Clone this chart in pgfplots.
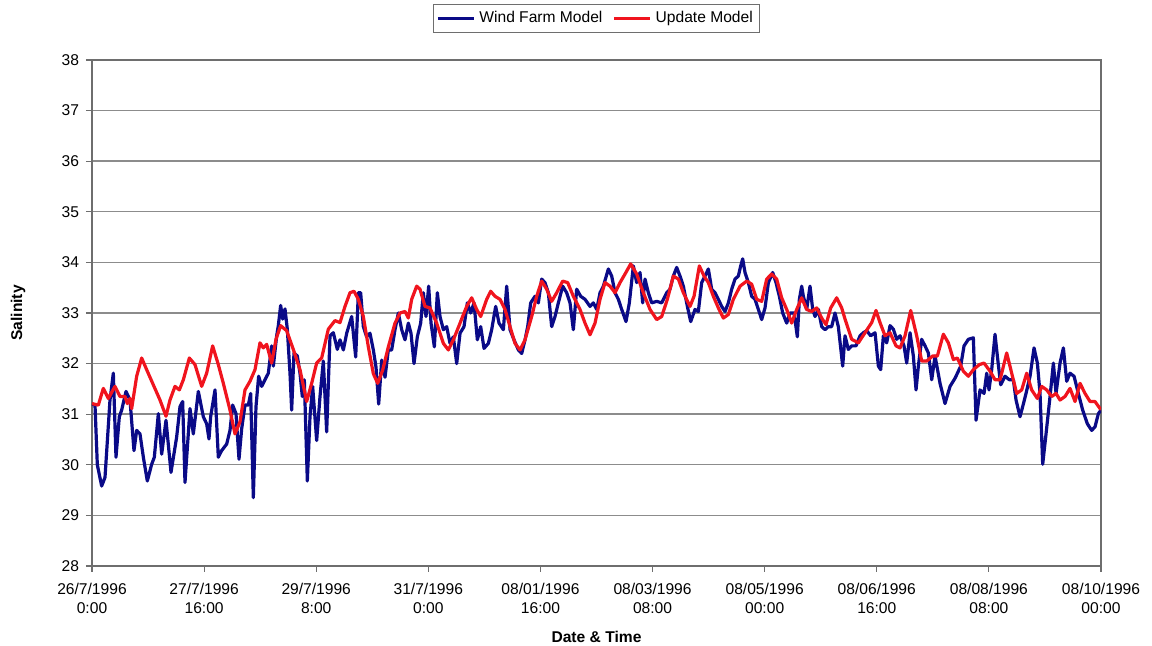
\documentclass[border=0pt]{standalone}
\usepackage{fontspec}
\setmainfont{Liberation Sans}
\usepackage{pgfplots}
\usepackage{pgfplotstable}
\pgfplotsset{compat=1.18}
\definecolor{navyline}{RGB}{10,10,135}
\definecolor{redline}{RGB}{240,20,30}
\definecolor{gridgray}{RGB}{140,140,140}
\definecolor{axisgray}{RGB}{110,110,110}

\pgfplotstableread{
h v
0 31.2
1.07 31.18
1.90 30.0
3.45 29.58
4.64 29.75
6.42 31.28
7.61 31.81
8.56 30.15
9.75 30.95
10.58 31.08
12.13 31.45
13.56 31.28
14.98 30.28
15.94 30.68
17.13 30.61
18.32 30.15
19.74 29.68
21.29 30.01
22.24 30.15
23.67 31.01
24.86 30.21
26.40 30.88
28.19 29.85
30.21 30.55
31.40 31.15
32.35 31.25
33.18 29.65
34.97 31.11
36.15 30.61
37.94 31.45
39.72 30.95
40.91 30.81
41.74 30.51
42.34 30.95
43.89 31.48
45.07 30.15
46.26 30.28
48.05 30.41
49.24 30.68
50.19 31.18
51.38 31.01
52.45 30.11
53.40 30.71
54.59 31.18
55.78 31.18
56.61 31.41
57.56 29.35
58.51 31.15
59.46 31.75
60.54 31.55
61.72 31.68
62.91 31.81
64.10 32.35
64.70 31.95
65.89 32.55
66.48 32.75
67.31 33.15
68.03 32.88
68.86 33.08
69.69 32.68
70.64 31.81
71.24 31.08
72.07 32.21
73.26 32.15
74.21 31.81
75.04 31.35
75.76 31.68
76.83 29.68
77.78 30.95
78.73 31.55
80.16 30.48
81.35 31.35
82.54 32.05
83.73 30.65
84.92 32.55
86.11 32.61
87.53 32.28
88.49 32.47
89.68 32.27
90.87 32.6
92.65 32.93
94.08 32.13
95.03 33.4
95.86 33.4
96.81 32.73
98.00 32.53
99.19 32.6
100.38 32.27
101.33 31.93
102.29 31.2
103.36 32.07
104.55 31.73
105.73 32.27
106.92 32.27
108.11 32.67
109.30 33.0
110.49 32.67
111.68 32.47
112.87 32.8
113.82 32.6
114.89 32.0
116.08 32.53
117.27 32.8
118.22 33.4
119.17 32.93
120.12 33.53
120.96 32.8
122.15 32.33
123.22 33.4
124.17 32.93
125.36 32.67
126.55 32.73
127.74 32.4
128.93 32.53
130.12 32.0
131.31 32.6
132.73 32.73
133.92 33.2
135.11 33.0
136.30 33.2
137.49 32.47
138.68 32.73
139.87 32.3
141.42 32.4
142.60 32.67
144.03 33.13
145.22 32.8
146.77 32.67
147.96 33.53
149.15 32.67
150.57 32.47
152.12 32.27
153.31 32.2
154.50 32.47
155.45 32.73
156.52 33.2
158.06 33.33
159.25 33.2
160.44 33.67
161.63 33.6
162.82 33.4
164.01 32.73
165.20 32.93
166.39 33.2
167.94 33.53
169.36 33.4
170.55 33.2
171.74 32.67
172.93 33.47
174.36 33.33
175.90 33.27
177.69 33.13
178.88 33.2
180.07 33.07
181.26 33.4
182.45 33.53
184.23 33.87
185.42 33.73
186.61 33.4
187.80 33.27
188.99 33.07
190.53 32.83
191.72 33.2
193.15 33.93
194.34 33.6
195.53 33.8
196.48 33.2
197.31 33.67
198.50 33.4
199.69 33.2
201.48 33.23
203.26 33.2
205.04 33.4
206.23 33.47
207.42 33.73
208.61 33.9
209.80 33.73
210.99 33.53
212.42 33.13
213.61 32.83
215.15 33.07
216.34 33.03
217.53 33.6
218.72 33.73
219.91 33.87
221.10 33.47
222.29 33.4
223.48 33.27
224.67 33.13
225.86 33.03
227.05 33.2
228.24 33.47
229.42 33.67
230.61 33.73
231.45 33.93
232.16 34.07
232.99 33.8
234.18 33.6
235.37 33.33
236.56 33.27
237.75 33.07
238.94 32.87
240.13 33.1
241.32 33.6
242.86 33.8
244.05 33.6
245.24 33.33
246.43 33.0
247.86 32.8
249.05 33.0
250.48 33.0
251.66 32.53
252.38 33.27
253.21 33.53
253.81 33.33
254.99 33.07
256.18 33.53
257.14 33.07
257.97 32.93
259.16 33.07
260.35 32.73
261.54 32.67
262.72 32.73
263.91 32.73
265.10 33.0
266.29 32.73
267.84 31.95
268.67 32.55
269.86 32.28
271.05 32.35
272.60 32.35
274.03 32.55
275.22 32.61
276.40 32.65
277.83 32.55
279.38 32.61
280.57 31.95
281.40 31.88
282.35 32.55
283.54 32.41
284.73 32.75
285.92 32.68
287.11 32.48
288.30 32.55
289.72 32.35
290.68 32.01
291.87 32.61
293.05 32.15
294.01 31.48
294.84 31.95
296.03 32.48
297.22 32.35
298.41 32.21
299.60 31.68
300.79 32.15
302.57 31.61
304.35 31.21
306.14 31.55
307.92 31.71
309.11 31.85
309.94 31.95
311.13 32.35
312.68 32.48
314.46 32.51
315.41 30.88
316.84 31.48
318.27 31.41
319.22 31.81
320.05 31.48
321.00 31.88
322.19 32.58
323.02 32.15
324.21 31.58
325.76 31.75
327.31 31.68
328.73 31.68
329.69 31.28
331.11 30.95
332.06 31.15
333.25 31.41
334.68 31.75
336.11 32.31
337.30 32.01
338.25 31.41
339.20 30.01
340.39 30.61
341.82 31.35
343.01 32.01
343.96 31.41
345.38 32.01
346.58 32.31
347.76 31.65
348.95 31.81
350.38 31.75
351.92 31.41
353.47 31.08
355.14 30.81
356.68 30.68
357.87 30.75
359.06 31.01
360 31.08
}\windfarm

\pgfplotstableread{
h v
0 31.21
2.26 31.18
4.04 31.51
5.83 31.31
8.21 31.55
9.99 31.35
11.77 31.35
12.61 31.21
13.56 31.31
14.15 31.11
15.94 31.75
17.72 32.11
19.50 31.88
21.88 31.58
24.26 31.28
26.40 30.96
27.83 31.28
29.61 31.55
31.16 31.48
32.59 31.68
34.73 32.11
36.75 31.98
39.13 31.55
40.91 31.81
43.05 32.35
45.07 31.98
46.86 31.61
49.24 31.08
51.02 30.61
52.81 30.85
54.59 31.48
56.37 31.65
58.16 31.88
59.94 32.41
61.13 32.31
62.32 32.38
64.10 32.01
65.65 32.48
67.31 32.75
69.45 32.65
71.83 32.28
74.21 31.88
76.59 31.25
78.37 31.61
80.16 32.01
81.94 32.11
84.32 32.68
86.70 32.85
88.49 32.81
90.27 33.13
92.05 33.4
93.48 33.43
95.03 33.27
96.81 32.93
98.60 32.33
100.38 31.8
101.93 31.61
103.71 31.87
105.73 32.33
108.11 32.8
109.90 33.0
111.68 33.03
112.87 32.9
114.06 33.27
115.84 33.53
117.03 33.47
118.82 33.13
120.60 33.1
122.98 32.8
125.36 32.4
127.14 32.27
128.93 32.47
131.31 32.8
133.68 33.13
135.47 33.3
137.25 33.07
138.68 32.93
140.82 33.27
142.25 33.43
143.79 33.33
145.58 33.27
147.36 33.07
149.15 32.73
150.93 32.4
152.71 32.27
154.50 32.47
156.87 32.93
158.66 33.33
160.44 33.63
162.23 33.47
164.01 33.23
165.79 33.4
167.94 33.63
169.72 33.6
171.74 33.33
174.12 33.07
175.90 32.8
177.69 32.57
179.47 32.8
181.26 33.27
183.04 33.6
184.83 33.53
186.61 33.4
188.39 33.6
190.18 33.77
192.20 33.97
194.34 33.77
196.72 33.4
199.10 33.07
201.48 32.87
203.26 32.93
205.28 33.27
207.42 33.73
209.21 33.67
210.99 33.4
213.37 33.13
214.80 33.33
216.70 33.93
218.36 33.73
219.91 33.6
221.69 33.33
223.48 33.1
225.26 32.9
227.05 32.97
228.83 33.27
231.21 33.53
233.59 33.63
235.37 33.57
237.16 33.27
238.94 33.23
240.72 33.67
242.51 33.77
244.29 33.67
246.07 33.3
247.86 33.07
249.64 32.8
251.43 33.07
253.21 33.3
254.99 33.07
256.78 33.03
258.56 33.1
260.35 32.9
261.89 32.77
263.56 33.1
265.70 33.3
267.48 33.1
268.67 32.88
271.05 32.48
273.43 32.41
275.81 32.61
278.19 32.81
279.73 33.05
281.16 32.81
282.95 32.55
284.73 32.61
286.87 32.35
288.30 32.31
290.08 32.55
292.10 33.05
294.24 32.55
296.03 32.05
297.81 32.05
299.95 32.15
301.62 32.15
303.76 32.58
305.54 32.41
307.33 32.08
308.75 32.11
310.89 31.85
312.68 31.75
314.46 31.88
316.60 31.98
318.27 32.01
320.41 31.85
322.19 31.68
323.98 31.68
326.36 32.21
328.14 31.81
329.92 31.41
331.71 31.48
333.49 31.81
335.27 31.48
337.30 31.31
338.84 31.55
340.63 31.48
342.41 31.35
343.96 31.41
345.38 31.28
347.17 31.35
348.95 31.51
350.73 31.25
352.52 31.61
354.30 31.41
356.09 31.25
357.87 31.25
359.66 31.11
360 31.10
}\update

\begin{document}
\begin{tikzpicture}
\begin{axis}[
  scale only axis,
  width=504.5pt, height=253pt,
  xmin=0, xmax=360, ymin=28, ymax=38,
  xtick={0,40,...,360},
  ytick={28,29,...,38},
  xtick pos=left, ytick pos=left,
  xticklabels={{26/7/1996\\0:00},{27/7/1996\\16:00},{29/7/1996\\8:00},{31/7/1996\\0:00},{08/01/1996\\16:00},{08/03/1996\\08:00},{08/05/1996\\00:00},{08/06/1996\\16:00},{08/08/1996\\08:00},{08/10/1996\\00:00}},
  xticklabel style={align=center, yshift=-2pt, font=\fontsize{7.8}{9.8}\selectfont},
  yticklabel style={font=\fontsize{7.8}{9.6}\selectfont},
  /pgf/number format/assume math mode=true,
  ymajorgrids,
  grid style={gridgray, line width=0.7pt},
  axis line style={axisgray, line width=0.8pt},
  tick style={axisgray, line width=0.6pt},
  tick align=outside,
  major tick length=3pt,
  xlabel={\textbf{Date \& Time}},
  ylabel={\textbf{Salinity}},
  every axis x label/.style={at={(axis description cs:0.5,0)}, yshift=-35.5pt, anchor=center, font=\fontsize{7.8}{9.6}\selectfont},
  every axis y label/.style={at={(axis description cs:0,0.5)}, xshift=-37pt, rotate=90, anchor=center, font=\fontsize{7.8}{9.6}\selectfont},
  legend columns=2,
  legend style={at={(axis description cs:0.5,1)}, anchor=south, yshift=13.5pt,
    draw=axisgray, line width=0.5pt, font=\fontsize{7.8}{9.6}\selectfont,
    inner sep=1.5pt, row sep=0pt,
    /tikz/every even column/.append style={column sep=3pt}},
  legend image code/.code={\draw[#1] (0pt,0pt) -- (18pt,0pt);},
  legend cell align=left,
]
\addplot[navyline, line width=1.6pt, line join=round] table[x=h, y=v] {\windfarm};
\addlegendentry{Wind Farm Model}
\addplot[redline, line width=1.6pt, line join=round] table[x=h, y=v] {\update};
\addlegendentry{Update Model}
\end{axis}
\pgfresetboundingbox
\path[use as bounding box] ([xshift=-46pt,yshift=-40pt]current axis.south west) rectangle ([xshift=25.5pt,yshift=30pt]current axis.north east);
\end{tikzpicture}
\end{document}
